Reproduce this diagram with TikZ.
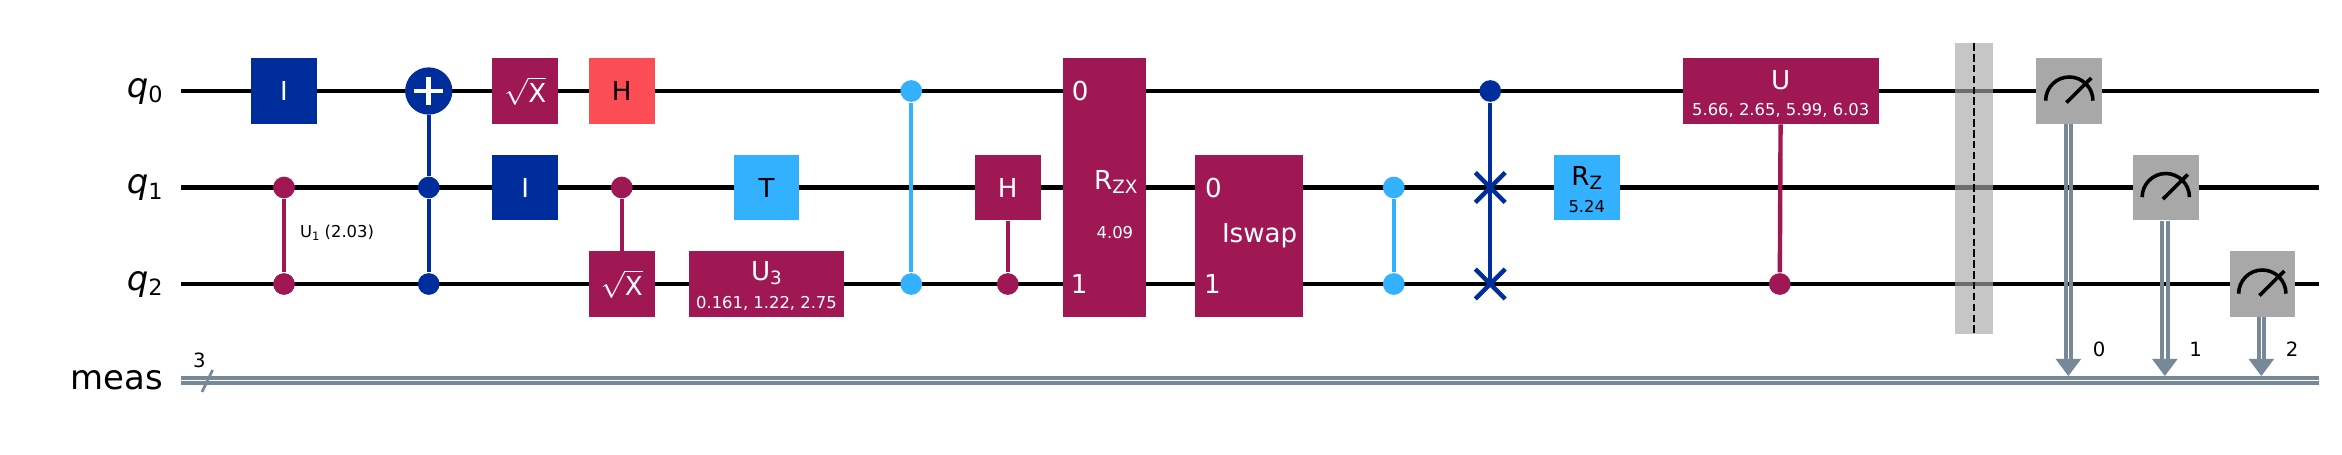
\documentclass[tikz,border=0pt]{standalone}
\usepackage{fontspec}
\setmainfont{DejaVu Sans}
\usepackage{tikz}
\usetikzlibrary{
    positioning,
    arrows.meta,
    calc
}
\definecolor{gateBlue}{HTML}{002D9C}
\definecolor{gatePink}{HTML}{9F1853}
\definecolor{gateSky}{HTML}{33B1FF}
\definecolor{gateRed}{HTML}{FA4D56}
\definecolor{gateGray}{HTML}{A8A8A8}
\definecolor{bitSlate}{HTML}{778899}

\newcommand{\gatefont}{\fontsize{7.7}{9}\selectfont}
\newcommand{\smallfont}{\fontsize{4.83}{6}\selectfont}
\newcommand{\subidx}[1]{\raisebox{-.3ex}{\fontsize{5.4}{6}\selectfont #1}}
\newcommand{\qidx}[1]{\raisebox{-.3ex}{\fontsize{6.6}{7}\selectfont #1}}

\tikzset{
    wire/.style={line width=1.2pt, black},
    cbit/.style={line width=1pt, bitSlate},
    gatebox/.style={rectangle, draw=none, inner sep=0pt, minimum width=.68cm, minimum height=.68cm, font=\gatefont, text=white},
    blueg/.style={gatebox, fill=gateBlue},
    pinkg/.style={gatebox, fill=gatePink},
    skyg/.style={gatebox, fill=gateSky, text=black},
    redg/.style={gatebox, fill=gateRed, text=black},
    measg/.style={gatebox, fill=gateGray},
    dot/.style={circle, inner sep=0pt, minimum size=.225cm},
    txt/.style={inner sep=0pt, font=\gatefont},
    param/.style={inner sep=0pt, font=\smallfont},
    qlabel/.style={inner sep=0pt, font=\fontsize{10}{11}\selectfont},
    link/.style={line width=1.3pt},
    meter/.style={line width=1.05pt, black}
}

\begin{document}
\begin{tikzpicture}
    \useasboundingbox (-2.943, 0.943) rectangle (21.326, -3.762);

    % Wires
    \foreach \y/\n in {0/0, -1/1, -2/2} {
        \coordinate (w\n a) at (-1.067, \y);
        \coordinate (w\n b) at (21.09, \y);
        \draw[wire] (w\n a) -- (w\n b);
        \node[qlabel, anchor=east] (q\n) at (-1.25, \y) {\itshape q\qidx{\normalfont\n}};
    }
    \coordinate (ma) at (-1.067, -3);
    \coordinate (mb) at (21.09, -3);
    \draw[cbit] ([yshift=.027cm]ma) -- ([yshift=.027cm]mb);
    \draw[cbit] ([yshift=-.027cm]ma) -- ([yshift=-.027cm]mb);
    \node[qlabel, anchor=east] (meas) at (-1.25, -3) {meas};
    \coordinate (sa) at (-.85, -3.119);
    \coordinate (sb) at (-.739, -2.891);
    \draw[line width=.8pt, bitSlate] (sa) -- (sb);
    \node[inner sep=0pt, font=\fontsize{5.8}{7}\selectfont] (three) at (-.878, -2.795) {3};

    % Barrier
    \fill[gateGray, opacity=.65] (17.32, .495) rectangle (17.705, -2.515);
    \coordinate (ba) at (17.51, .495);
    \coordinate (bb) at (17.51, -2.515);
    \draw[line width=.7pt, dash pattern=on 2.2pt off 1pt, black] (ba) -- (bb);

    % Controls and links
    \node[dot, fill=gatePink] (u1a) at (0, -1) {};
    \node[dot, fill=gatePink] (u1b) at (0, -2) {};
    \draw[link, gatePink] (u1a) -- (u1b);
    \node[param, text=black] (u1txt) at (.55, -1.47) {U\raisebox{-.25ex}{\fontsize{3.4}{4}\selectfont 1} (2.03)};

    \node[circle, fill=gateBlue, inner sep=0pt, minimum size=.49cm] (cxt) at (1.5, 0) {};
    \node[dot, fill=gateBlue] (cxa) at (1.5, -1) {};
    \node[dot, fill=gateBlue] (cxb) at (1.5, -2) {};
    \draw[link, gateBlue] (cxt) -- (cxa);
    \draw[link, gateBlue] (cxa) -- (cxb);
    \draw[line width=1.4pt, white] ([xshift=-.15cm]cxt.center) -- ([xshift=.15cm]cxt.center);
    \draw[line width=1.4pt, white] ([yshift=-.15cm]cxt.center) -- ([yshift=.15cm]cxt.center);

    \node[dot, fill=gateSky] (cza) at (6.5, 0) {};
    \node[dot, fill=gateSky] (czb) at (6.5, -2) {};
    \draw[link, gateSky] (cza) -- (czb);

    \node[dot, fill=gateSky] (czc) at (11.5, -1) {};
    \node[dot, fill=gateSky] (czd) at (11.5, -2) {};
    \draw[link, gateSky] (czc) -- (czd);

    \node[dot, fill=gateBlue] (swa) at (12.5, 0) {};
    \coordinate (swb) at (12.5, -1);
    \coordinate (swc) at (12.5, -2);
    \draw[link, gateBlue] (swa) -- (swc);
    \foreach \c in {swb, swc} {
        \draw[link, gateBlue] ([shift={(-.155, -.155)}]\c) -- ([shift={(.155, .155)}]\c);
        \draw[link, gateBlue] ([shift={(-.155, .155)}]\c) -- ([shift={(.155, -.155)}]\c);
    }

    % Gates
    \node[blueg] (i0) at (0, 0) {I};
    \node[pinkg] (sx0) at (2.5, 0) {$\sqrt{\hbox{X}}$};
    \node[blueg] (i1) at (2.5, -1) {I};
    \node[redg] (h0) at (3.5, 0) {H};

    \node[dot, fill=gatePink] (csx) at (3.5, -1) {};
    \node[pinkg] (sx2) at (3.5, -2) {$\sqrt{\hbox{X}}$};
    \draw[link, gatePink] (csx) -- (sx2);

    \node[skyg] (t1) at (5, -1) {T};
    \node[pinkg, minimum width=1.615cm] (u3) at (5, -2) {};
    \node[txt, text=white] (u3a) at ([yshift=.114cm]u3.center) {U\subidx{3}};
    \node[param, text=white] (u3b) at ([yshift=-.197cm]u3.center) {0.161, 1.22, 2.75};

    \node[pinkg] (ch) at (7.5, -1) {H};
    \node[dot, fill=gatePink] (chb) at (7.5, -2) {};
    \draw[link, gatePink] (ch) -- (chb);

    % Two wire boxes
    \node[gatebox, fill=gatePink, minimum width=.86cm, minimum height=2.684cm] (rzx) at (8.5, -1) {};
    \node[txt, text=white] (rzxa) at (8.25, 0) {0};
    \node[txt, text=white] (rzxb) at (8.24, -2) {1};
    \node[txt, text=white] (rzxc) at (8.62, -.94) {R\subidx{ZX}};
    \node[param, text=white] (rzxd) at (8.61, -1.47) {4.09};

    \node[gatebox, fill=gatePink, minimum width=1.11cm, minimum height=1.68cm] (isw) at (10, -1.5) {};
    \node[txt, text=white] (iswa) at (9.63, -1) {0};
    \node[txt, text=white] (iswb) at (9.62, -2) {1};
    \node[txt, text=white] (iswc) at (10.11, -1.5) {Iswap};

    \node[skyg] (rz) at (13.5, -1) {};
    \node[txt] (rza) at ([yshift=.1cm]rz.center) {R\subidx{Z}};
    \node[param] (rzb) at ([yshift=-.2cm]rz.center) {5.24};

    \node[pinkg, minimum width=2.03cm] (ug) at (15.51, 0) {};
    \node[txt, text=white] (uga) at ([yshift=.114cm]ug.center) {U};
    \node[param, text=white] (ugb) at ([yshift=-.197cm]ug.center) {5.66, 2.65, 5.99, 6.03};
    \node[dot, fill=gatePink] (ugc) at (15.5, -2) {};
    \draw[link, gatePink] (ug) -- (ugc);

    % Measures
    \node[measg] (m0) at (18.5, 0) {};
    \node[measg] (m1) at (19.5, -1) {};
    \node[measg] (m2) at (20.5, -2) {};
    \coordinate (c0) at (18.49, -2.777);
    \coordinate (c1) at (19.49, -2.777);
    \coordinate (c2) at (20.49, -2.777);
    \foreach \n in {0, 1, 2} {
        \draw[meter] ([shift={(-.245, -.1)}]m\n.center) arc (180:0:.245);
        \draw[meter] ([shift={(-.03, -.12)}]m\n.center) -- ([shift={(.228, .135)}]m\n.center);
        \draw[cbit, line width=1.2pt] ([xshift=-.029cm]m\n.south -| c\n) -- ([xshift=-.029cm]c\n);
        \draw[cbit, line width=1.2pt] ([xshift=.029cm]m\n.south -| c\n) -- ([xshift=.029cm]c\n);
        \fill[bitSlate] ([xshift=-.132cm]c\n) -- ([xshift=.132cm]c\n) -- ([yshift=-.176cm]c\n) -- cycle;
        \node[inner sep=0pt, font=\fontsize{5.8}{7}\selectfont] (l\n) at ([shift={(.32, .1)}]c\n) {\n};
    }
\end{tikzpicture}
\end{document}
